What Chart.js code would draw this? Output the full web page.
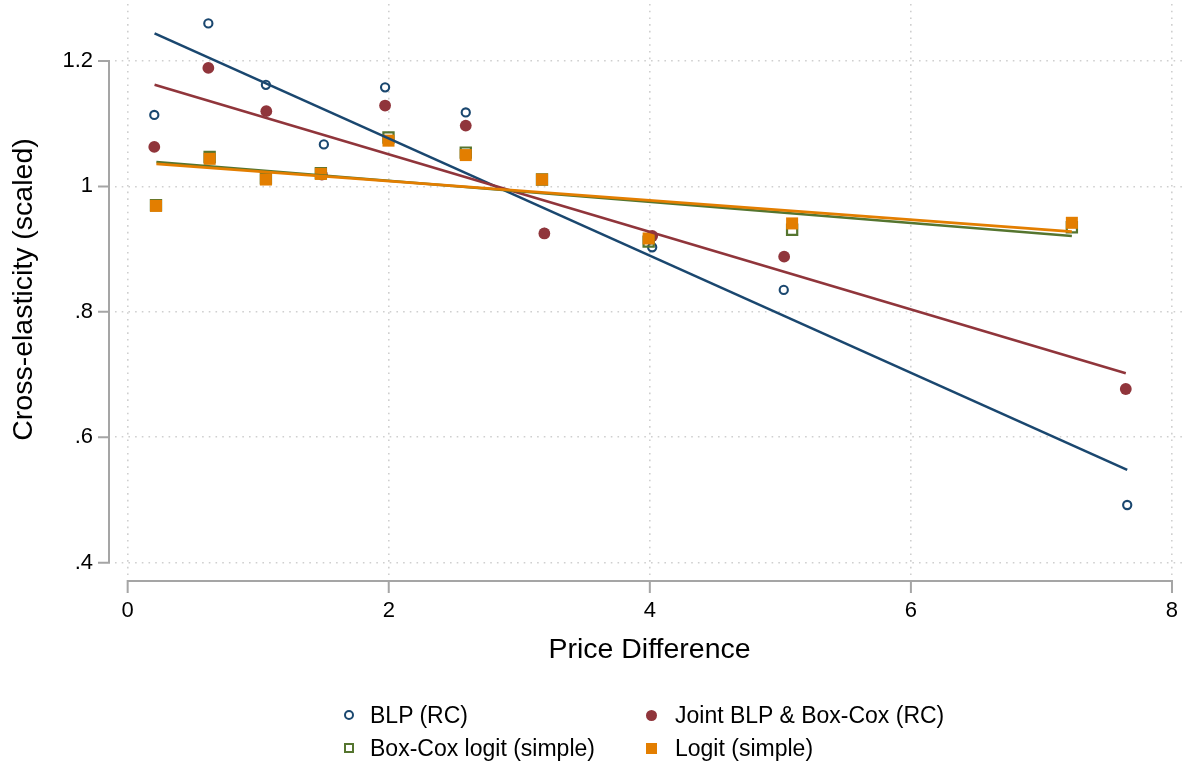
<!DOCTYPE html>
<html>
<head>
<meta charset="utf-8">
<script src="https://cdn.jsdelivr.net/npm/chart.js@4.4.1/dist/chart.umd.min.js"></script>
<style>
  html, body { margin: 0; padding: 0; background: #fff; }
  #wrap { position: relative; width: 1188px; height: 767px; }
  #legend { position: absolute; left: 0; top: 0; width: 1188px; height: 767px; pointer-events: none;
            font-family: "Liberation Sans", Arial, sans-serif; font-size: 23px; color: #000; }
  .item { position: absolute; display: flex; align-items: center; height: 28px; white-space: nowrap; }
  .mk { width: 14px; height: 14px; display: flex; align-items: center; justify-content: center; }
  .mk span { display: block; box-sizing: border-box; }
</style>
</head>
<body>
<div id="wrap">
  <canvas id="chart"></canvas>
  <div id="legend"></div>
</div>
<script>
document.addEventListener('DOMContentLoaded', () => {
    // tick values / labels
    const xTicks = [0, 2, 4, 6, 8];
    const yTicks = [0.4, 0.6, 0.8, 1.0, 1.2];
    const yTickLabels = ['.4', '.6', '.8', '1', '1.2'];

    // series
    const blpX = [0.204, 0.618, 1.059, 1.503, 1.972, 2.590, 3.192, 4.018, 5.026, 7.657];
    const blpY = [1.114, 1.260, 1.162, 1.067, 1.158, 1.118, 0.926, 0.903, 0.835, 0.492];
    const jointX = [0.204, 0.618, 1.062, 1.488, 1.972, 2.590, 3.192, 4.018, 5.029, 7.646];
    const jointY = [1.063, 1.189, 1.120, 1.019, 1.129, 1.097, 0.925, 0.921, 0.888, 0.677];
    const boxcoxX = [0.217, 0.628, 1.059, 1.480, 1.998, 2.590, 3.174, 3.991, 5.090, 7.233];
    const boxcoxY = [0.970, 1.047, 1.013, 1.021, 1.078, 1.054, 1.011, 0.912, 0.931, 0.935];
    const logitX = [0.217, 0.628, 1.059, 1.480, 1.998, 2.590, 3.174, 3.991, 5.090, 7.233];
    const logitY = [0.969, 1.044, 1.011, 1.020, 1.073, 1.050, 1.011, 0.917, 0.941, 0.942];

    // fitted lines (end points)
    const blpFitX = [0.206, 7.657];
    const blpFitY = [1.244, 0.548];
    const jointFitX = [0.206, 7.646];
    const jointFitY = [1.162, 0.702];
    const boxcoxFitX = [0.220, 7.233];
    const boxcoxFitY = [1.039, 0.921];
    const logitFitX = [0.220, 7.233];
    const logitFitY = [1.036, 0.928];

    const navy = '#1a476f';
    const maroon = '#90353b';
    const green = '#55752f';
    const orange = '#e37e00';

    const pts = (xs, ys) => xs.map((x, i) => ({ x: x, y: ys[i] }));
    const font = '"Liberation Sans", Arial, sans-serif';

    const fitLine = (label, xs, ys, color, order) => ({
        type: 'line', label: label, data: pts(xs, ys), borderColor: color,
        borderWidth: 2.6, pointRadius: 0, fill: false, order: order
    });

    // Stata style axis lines sitting apart from the plot region
    const stataAxes = {
        id: 'stataAxes',
        afterDraw(chart) {
            const { ctx, chartArea, scales } = chart;
            const ax = chartArea.left - 6;
            const ay = chartArea.bottom + 6;
            ctx.save();
            ctx.strokeStyle = '#a5a5a5';
            ctx.lineWidth = 2;
            ctx.beginPath();
            ctx.moveTo(ax, scales.y.getPixelForValue(yTicks[0]));
            ctx.lineTo(ax, scales.y.getPixelForValue(yTicks[yTicks.length - 1]));
            yTicks.forEach(v => {
                const py = scales.y.getPixelForValue(v);
                ctx.moveTo(ax - 11, py);
                ctx.lineTo(ax + 1, py);
            });
            ctx.moveTo(scales.x.getPixelForValue(xTicks[0]), ay);
            ctx.lineTo(scales.x.getPixelForValue(xTicks[xTicks.length - 1]), ay);
            xTicks.forEach(v => {
                const px = scales.x.getPixelForValue(v);
                ctx.moveTo(px, ay - 1);
                ctx.lineTo(px, ay + 12);
            });
            ctx.stroke();
            ctx.restore();
        }
    };

    const ctx = document.getElementById('chart').getContext('2d');
    const chart = new Chart(ctx, {
        type: 'scatter',
        data: {
            datasets: [
                fitLine('BLP fit', blpFitX, blpFitY, navy, 4),
                fitLine('Joint fit', jointFitX, jointFitY, maroon, 3),
                fitLine('Box-Cox fit', boxcoxFitX, boxcoxFitY, green, 2),
                fitLine('Logit fit', logitFitX, logitFitY, orange, 1),
                {
                    label: 'BLP (RC)', data: pts(blpX, blpY), pointStyle: 'circle',
                    pointRadius: 4.1, borderWidth: 2.1, borderColor: navy,
                    backgroundColor: 'rgba(0,0,0,0)', order: 8
                },
                {
                    label: 'Joint BLP & Box-Cox (RC)', data: pts(jointX, jointY), pointStyle: 'circle',
                    pointRadius: 5.9, borderWidth: 0, borderColor: maroon,
                    backgroundColor: maroon, order: 7
                },
                {
                    label: 'Box-Cox logit (simple)', data: pts(boxcoxX, boxcoxY), pointStyle: 'rect',
                    pointRadius: 7.2, borderWidth: 2.2, borderColor: green,
                    backgroundColor: 'rgba(0,0,0,0)', order: 6
                },
                {
                    label: 'Logit (simple)', data: pts(logitX, logitY), pointStyle: 'rect',
                    pointRadius: 8.5, borderWidth: 0, borderColor: orange,
                    backgroundColor: orange, order: 5
                }
            ]
        },
        options: {
            responsive: true,
            maintainAspectRatio: false,
            animation: false,
            events: [],
            layout: { autoPadding: false, padding: { left: 0, right: 4, top: 4, bottom: 92 } },
            plugins: {
                legend: { display: false },
                tooltip: { enabled: false }
            },
            scales: {
                x: {
                    type: 'linear',
                    min: -0.097,
                    max: 8.092,
                    afterBuildTicks: s => { s.ticks = xTicks.map(v => ({ value: v })); },
                    afterFit: s => { s.height = 100; s.paddingLeft = 0; s.paddingRight = 0; },
                    grid: { color: '#cfcfcf', lineWidth: 1.6, drawTicks: true, tickLength: 20, tickColor: 'rgba(0,0,0,0)' },
                    border: { display: false, dash: [1.6, 5.1] },
                    ticks: {
                        autoSkip: false, maxRotation: 0, padding: 3, color: '#000',
                        font: { family: font, size: 22 },
                        callback: v => String(v)
                    },
                    title: {
                        display: true, text: 'Price Difference', color: '#000',
                        font: { family: font, size: 28.5 }, padding: { top: 0, bottom: 8 }
                    }
                },
                y: {
                    min: 0.3804,
                    max: 1.2909,
                    afterBuildTicks: s => { s.ticks = yTicks.map(v => ({ value: v })); },
                    afterFit: s => { s.width = 115; s.paddingTop = 0; s.paddingBottom = 0; },
                    grid: { color: '#cfcfcf', lineWidth: 1.6, drawTicks: true, tickLength: 15, tickColor: 'rgba(0,0,0,0)' },
                    border: { display: false, dash: [1.6, 5.1] },
                    ticks: {
                        padding: 7, color: '#000',
                        font: { family: font, size: 22 },
                        callback: (v, i) => yTickLabels[i]
                    },
                    title: {
                        display: true, text: 'Cross-elasticity (scaled)', color: '#000',
                        font: { family: font, size: 28.5 }, padding: { top: 7, bottom: 0 }
                    }
                }
            }
        },
        plugins: [stataAxes]
    });

    // legend in two columns, Stata style
    const legendItems = [
        { text: 'BLP (RC)', left: 342, top: 701, gap: 14, mk: 'width:10px;height:10px;border:2px solid ' + navy + ';border-radius:50%' },
        { text: 'Joint BLP & Box-Cox (RC)', left: 644, top: 701, gap: 17, mk: 'width:11px;height:11px;background:' + maroon + ';border-radius:50%' },
        { text: 'Box-Cox logit (simple)', left: 342, top: 734, gap: 14, mk: 'width:10px;height:10px;border:2px solid ' + green },
        { text: 'Logit (simple)', left: 644, top: 734, gap: 17, mk: 'width:11px;height:11px;background:' + orange }
    ];
    const legend = document.getElementById('legend');
    legendItems.forEach(it => {
        const div = document.createElement('div');
        div.className = 'item';
        div.style.left = it.left + 'px';
        div.style.top = it.top + 'px';
        div.innerHTML = `<div class="mk"><span style="${it.mk}"></span></div>` +
                        `<span style="margin-left:${it.gap}px">${it.text}</span>`;
        legend.appendChild(div);
    });
});
</script>
</body>
</html>
